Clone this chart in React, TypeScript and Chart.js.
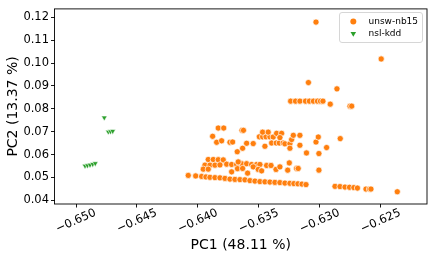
import { useEffect, useRef } from 'react';
import { Chart, registerables } from 'chart.js';

Chart.register(...registerables);

// ---- data ----
const SERIES_LABELS = ['unsw-nb15', 'nsl-kdd'];
const AXIS_TITLES = ['PC1 (48.11 %)', 'PC2 (13.37 %)'];
const X_TICKS = [-0.65, -0.645, -0.64, -0.635, -0.63, -0.625];
const Y_TICKS = [0.04, 0.05, 0.06, 0.07, 0.08, 0.09, 0.1, 0.11, 0.12];
const X_LIMITS = [-0.651764, -0.621202];
const Y_LIMITS = [0.03839, 0.12372];

const UNSW_PC1 = [
  -0.63031, -0.62496, -0.63093, -0.62859,
  -0.63239, -0.63199, -0.63163, -0.63117, -0.63085, -0.63052, -0.63019, -0.62994, -0.62974,
  -0.62914, -0.62752, -0.62738,
  // middle band
  -0.63833, -0.63788, -0.63879, -0.63846, -0.63805, -0.63737, -0.63715, -0.63638, -0.63626,
  -0.63677, -0.63633, -0.636, -0.63546,
  -0.63496, -0.63469, -0.63441, -0.63409, -0.63382, -0.63469, -0.63423, -0.6345,
  -0.63395, -0.63357, -0.63332, -0.633, -0.63354, -0.63313, -0.63327, -0.63286, -0.63245,
  -0.63245, -0.63231, -0.63217, -0.63163, -0.63163, -0.63109, -0.63031, -0.63012, -0.63007,
  -0.62944, -0.62832,
  // lower band
  -0.63915, -0.63874, -0.63833, -0.63792, -0.63942, -0.63901, -0.6386, -0.63819, -0.63764,
  -0.63956, -0.63915, -0.63723, -0.63682, -0.63641, -0.636, -0.63723, -0.63669,
  -0.63559, -0.63518, -0.63491, -0.63675, -0.63633, -0.63592, -0.63546, -0.63505, -0.63477,
  -0.63436, -0.634, -0.63359, -0.63327, -0.63263, -0.6325, -0.6319, -0.63177, -0.63007,
  // bottom row
  -0.64079, -0.64018, -0.63969, -0.63934, -0.63901, -0.6386, -0.63819, -0.63778, -0.63737,
  -0.63696, -0.63655, -0.63614, -0.63573, -0.63532, -0.63491, -0.6345, -0.63409, -0.63368,
  -0.63327, -0.63286, -0.63245, -0.63212, -0.63179, -0.63146, -0.63113,
  // right group
  -0.62875, -0.62834, -0.62793, -0.62756, -0.6272, -0.62691, -0.62621, -0.62592, -0.6258, -0.62364,
];
const UNSW_PC2 = [
  0.11794, 0.10183, 0.09151, 0.08876,
  0.08337, 0.08337, 0.08337, 0.08337, 0.08337, 0.08337, 0.08337, 0.08337, 0.08337,
  0.08206, 0.08119, 0.08119,
  // middle band
  0.07161, 0.07161, 0.068, 0.06538, 0.06604, 0.06538, 0.06551, 0.07061, 0.07061,
  0.06125, 0.06277, 0.06495, 0.06482,
  0.06778, 0.06778, 0.06778, 0.06778, 0.06769, 0.06982, 0.06982, 0.06364,
  0.06508, 0.06508, 0.06508, 0.06508, 0.0693, 0.0693, 0.06743, 0.06473, 0.06473,
  0.06277, 0.06656, 0.06843, 0.06843, 0.06408, 0.06072, 0.06551, 0.06769, 0.06046,
  0.06308, 0.06699,
  // lower band
  0.05785, 0.05785, 0.05776, 0.05768, 0.05537, 0.05537, 0.05537, 0.0555, 0.0558,
  0.05363, 0.05363, 0.05567, 0.05567, 0.05602, 0.05602, 0.05245, 0.05681,
  0.05567, 0.05567, 0.05567, 0.05385, 0.05393, 0.05189, 0.05463, 0.0535, 0.05289,
  0.05524, 0.05524, 0.0535, 0.05463, 0.05319, 0.05637, 0.05393, 0.05393, 0.05319,
  // bottom row
  0.05089, 0.05067, 0.05045, 0.05023, 0.05006, 0.04993, 0.04984, 0.04958, 0.04927,
  0.04914, 0.04906, 0.04897, 0.04862, 0.0484, 0.04819, 0.0481, 0.04797, 0.04784,
  0.04775, 0.04753, 0.04745, 0.04731, 0.04723, 0.0471, 0.04688,
  // right group
  0.0461, 0.04601, 0.04579, 0.0457, 0.04557, 0.04536, 0.04492, 0.04492, 0.04492, 0.04374,
];
const NSL_PC1 = [-0.64768, -0.64735, -0.64717, -0.64699, -0.64926, -0.64906, -0.64885, -0.64863, -0.64842];
const NSL_PC2 = [0.07614, 0.06996, 0.07009, 0.07026, 0.05507, 0.05524, 0.0555, 0.0558, 0.05615];

const COLORS = ['#ff7f0e', '#2ca02c'];
const FONT = "'DejaVu Sans', sans-serif";

function toPoints(xs: number[], ys: number[]) {
  return xs.map((x, i) => ({ x, y: ys[i] }));
}

function drawTriangleDown(ctx: CanvasRenderingContext2D, x: number, y: number, r: number) {
  ctx.beginPath();
  ctx.moveTo(x, y + r);
  ctx.lineTo(x - r * 0.866, y - r * 0.5);
  ctx.lineTo(x + r * 0.866, y - r * 0.5);
  ctx.closePath();
}

const decorPlugin = {
  id: 'decor',
  afterDraw(chart: any) {
    const { ctx, chartArea } = chart;
    const { left, right, top, bottom } = chartArea;
    ctx.save();
    // frame
    ctx.strokeStyle = '#000';
    ctx.lineWidth = 0.9;
    ctx.strokeRect(left, top, right - left, bottom - top);

    // rotated x tick labels (centered on ticks)
    const xs = chart.scales.x;
    ctx.fillStyle = '#000';
    ctx.font = `11.5px ${FONT}`;
    ctx.textAlign = 'center';
    ctx.textBaseline = 'middle';
    X_TICKS.forEach((v) => {
      const px = xs.getPixelForValue(v);
      const label = (v < 0 ? '\u2212' : '') + Math.abs(v).toFixed(3);
      ctx.save();
      ctx.translate(px, bottom + 17);
      ctx.rotate((-24 * Math.PI) / 180);
      ctx.fillText(label, 0, 0);
      ctx.restore();
    });

    // legend
    const bx = 339.5, by = 12.5, bw = 83, bh = 30;
    ctx.beginPath();
    const r = 2.5;
    ctx.moveTo(bx + r, by);
    ctx.lineTo(bx + bw - r, by);
    ctx.quadraticCurveTo(bx + bw, by, bx + bw, by + r);
    ctx.lineTo(bx + bw, by + bh - r);
    ctx.quadraticCurveTo(bx + bw, by + bh, bx + bw - r, by + bh);
    ctx.lineTo(bx + r, by + bh);
    ctx.quadraticCurveTo(bx, by + bh, bx, by + bh - r);
    ctx.lineTo(bx, by + r);
    ctx.quadraticCurveTo(bx, by, bx + r, by);
    ctx.closePath();
    ctx.fillStyle = 'rgba(255,255,255,0.8)';
    ctx.fill();
    ctx.strokeStyle = '#d6d6d6';
    ctx.lineWidth = 1;
    ctx.stroke();

    const mx = 353.3;
    const rows = [21.5, 33.5];
    ctx.fillStyle = COLORS[0];
    ctx.beginPath();
    ctx.arc(mx, rows[0], 3, 0, Math.PI * 2);
    ctx.fill();
    ctx.fillStyle = COLORS[1];
    drawTriangleDown(ctx, mx, rows[1], 3.2);
    ctx.fill();

    ctx.fillStyle = '#000';
    ctx.font = `9px ${FONT}`;
    ctx.textAlign = 'left';
    ctx.textBaseline = 'middle';
    ctx.fillText(SERIES_LABELS[0], 368.5, rows[0]);
    ctx.fillText(SERIES_LABELS[1], 368.5, rows[1]);
    ctx.restore();
  },
};

export default function App() {
  const ref = useRef<HTMLCanvasElement | null>(null);
  useEffect(() => {
    if (!ref.current) return;
    Chart.defaults.font.family = FONT;
    Chart.defaults.color = '#000';
    const chart = new Chart(ref.current, {
      type: 'scatter',
      data: {
        datasets: [
          {
            label: SERIES_LABELS[0],
            data: toPoints(UNSW_PC1, UNSW_PC2),
            pointStyle: 'circle',
            pointRadius: 3.1,
            pointBackgroundColor: COLORS[0],
            pointBorderColor: '#ffffff',
            pointBorderWidth: 0.7,
          },
          {
            label: SERIES_LABELS[1],
            data: toPoints(NSL_PC1, NSL_PC2),
            pointStyle: 'triangle',
            pointRotation: 180,
            pointRadius: 3.3,
            pointBackgroundColor: COLORS[1],
            pointBorderColor: '#ffffff',
            pointBorderWidth: 0.6,
          },
        ],
      },
      options: {
        animation: false,
        responsive: false,
        devicePixelRatio: 1,
        layout: { padding: { top: 8, right: 9, left: 0, bottom: 0 } },
        plugins: { legend: { display: false }, tooltip: { enabled: false } },
        scales: {
          x: {
            type: 'linear',
            min: X_LIMITS[0],
            max: X_LIMITS[1],
            afterBuildTicks: (s: any) => {
              s.ticks = X_TICKS.map((v) => ({ value: v }));
            },
            afterFit: (s: any) => {
              s.height = 58;
            },
            ticks: { display: false },
            grid: { drawOnChartArea: false, drawTicks: true, tickLength: 3.5, color: '#000', lineWidth: 0.9 },
            border: { display: false },
            title: {
              display: true,
              text: AXIS_TITLES[0],
              font: { size: 14, family: FONT },
              padding: { top: 0, bottom: 8 },
              color: '#000',
            },
          },
          y: {
            type: 'linear',
            min: Y_LIMITS[0],
            max: Y_LIMITS[1],
            afterBuildTicks: (s: any) => {
              s.ticks = Y_TICKS.map((v) => ({ value: v }));
            },
            afterFit: (s: any) => {
              s.width = 54.5;
            },
            ticks: {
              font: { size: 11.5, family: FONT },
              padding: 2,
              color: '#000',
              callback: (v: any) => Number(v).toFixed(2),
            },
            grid: { drawOnChartArea: false, drawTicks: true, tickLength: 3.5, color: '#000', lineWidth: 0.9 },
            border: { display: false },
            title: {
              display: true,
              text: AXIS_TITLES[1],
              font: { size: 14, family: FONT },
              padding: { top: 5, bottom: 0 },
              color: '#000',
            },
          },
        },
      },
      plugins: [decorPlugin],
    });
    return () => chart.destroy();
  }, []);
  return (
    <div style={{ position: 'fixed', left: 0, top: 0, width: 436, height: 262, background: '#fff' }}>
      <canvas ref={ref} width={436} height={262} style={{ display: 'block', width: 436, height: 262 }} />
    </div>
  );
}
